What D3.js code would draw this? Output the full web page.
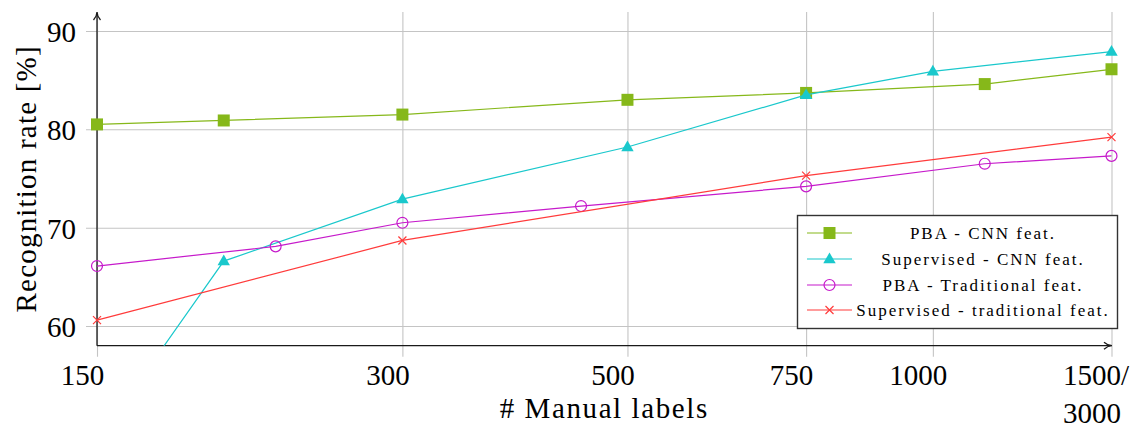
<!DOCTYPE html>
<html>
<head>
<meta charset="utf-8">
<script src="https://cdn.jsdelivr.net/npm/d3@7"></script>
<style>
  html, body { margin: 0; padding: 0; background: #fff; }
  svg { display: block; }
  text { font-family: "Liberation Serif", "DejaVu Serif", serif; fill: #000; }
</style>
</head>
<body>
<svg id="chart" width="1133" height="428"></svg>
<script>
// Recognition rate against the number of manual labels
const xTicks = [150, 300, 500, 750, 1000, 1500];
const xTickLabels = ["150", "300", "500", "750", "1000", "1500/|3000"];
const yTicks = [60, 70, 80, 90];

const seriesNames = [
  "PBA - CNN feat.",
  "Supervised - CNN feat.",
  "PBA - Traditional feat.",
  "Supervised - traditional feat."
];
const seriesColors = ["#86b81a", "#1ac8cc", "#c61acb", "#ff3b3b"];
const seriesMarkers = ["square", "triangle", "circle", "cross"];

const pbaCnnX = [150, 200, 300, 500, 750, 1125, 1500];
const pbaCnnY = [80.5, 80.9, 81.5, 83.0, 83.7, 84.6, 86.1];

const supCnnX = [150, 200, 300, 500, 750, 1000, 1500];
const supCnnY = [48.3, 66.6, 72.9, 78.2, 83.5, 85.9, 87.9];

const pbaTradX = [150, 225, 300, 450, 750, 1125, 1500];
const pbaTradY = [66.1, 68.1, 70.5, 72.2, 74.2, 76.5, 77.3];

const supTradX = [150, 300, 750, 1500];
const supTradY = [60.6, 68.7, 75.3, 79.2];

const seriesX = [pbaCnnX, supCnnX, pbaTradX, supTradX];
const seriesY = [pbaCnnY, supCnnY, pbaTradY, supTradY];

const svg = d3.select("#chart");

const x = d3.scaleLog().domain([150, 1500]).range([97, 1111.5]);
const y = d3.scaleLinear().domain([58, 92]).range([345.7, 11.3]);

const gridColor = "#c4c4c4";
const tickOut = 11;
const labelSize = 29;

// horizontal grid lines, running a little past the y axis
const yAxis = d3.axisLeft(y)
  .tickValues(yTicks)
  .tickSize(-(x.range()[1] - x.range()[0] + tickOut))
  .tickPadding(10)
  .tickFormat(d3.format("d"));
const gy = svg.append("g")
  .attr("transform", `translate(${x.range()[0] - tickOut},0)`)
  .call(yAxis);
gy.select(".domain").remove();
gy.selectAll(".tick line").attr("stroke", gridColor).attr("stroke-width", 1.1);
gy.selectAll(".tick text")
  .attr("font-size", labelSize)
  .attr("font-family", "Liberation Serif")
  .attr("dy", "0.36em");

// vertical grid lines with tick labels underneath
const xBottom = y.range()[0] + tickOut;
const xAxis = d3.axisBottom(x)
  .tickValues(xTicks)
  .tickSize(-(xBottom - 12))
  .tickFormat((d, i) => xTickLabels[i]);
const gx = svg.append("g")
  .attr("transform", `translate(0,${xBottom})`)
  .call(xAxis);
gx.select(".domain").remove();
gx.selectAll(".tick line").attr("stroke", gridColor).attr("stroke-width", 1.1);
gx.selectAll(".tick text")
  .attr("font-size", labelSize)
  .attr("font-family", "Liberation Serif")
  .attr("y", 385 - xBottom)
  .attr("dy", 0)
  .each(function (d, i) {
    const t = d3.select(this);
    const parts = xTickLabels[i].split("|");
    t.text(null);
    if (parts.length === 1) {
      t.append("tspan").attr("x", -15).text(parts[0]);
    } else {
      t.attr("text-anchor", "start");
      t.append("tspan").attr("x", -49).text(parts[0]);
      t.append("tspan").attr("x", -49).attr("dy", 38).text(parts[1]);
    }
  });

// axis lines with arrow heads (drawn beneath the data marks)
const axisColor = "#1a1a1a";
const x0 = x.range()[0], yb = y.range()[0];
svg.append("line")
  .attr("x1", x0).attr("y1", yb).attr("x2", x0).attr("y2", 14)
  .attr("stroke", axisColor).attr("stroke-width", 1.3);
svg.append("path")
  .attr("d", `M${x0 - 3.5},${20} Q${x0},${16} ${x0},${12} Q${x0},${16} ${x0 + 3.5},${20}`)
  .attr("fill", "none").attr("stroke", axisColor).attr("stroke-width", 1.3);
const xr = x.range()[1] + 0.5;
svg.append("line")
  .attr("x1", x0).attr("y1", yb).attr("x2", xr - 2).attr("y2", yb)
  .attr("stroke", axisColor).attr("stroke-width", 1.3);
svg.append("path")
  .attr("d", `M${xr - 8},${yb - 3.5} Q${xr - 4},${yb} ${xr},${yb} Q${xr - 4},${yb} ${xr - 8},${yb + 3.5}`)
  .attr("fill", "none").attr("stroke", axisColor).attr("stroke-width", 1.3);

// data lines, clipped to the plotting area (markers on the left edge stay whole)
svg.append("clipPath").attr("id", "plot-clip")
  .append("rect")
  .attr("x", x.range()[0] - 12).attr("y", 0)
  .attr("width", x.range()[1] - x.range()[0] + 24)
  .attr("height", y.range()[0]);

const line = d3.line().x(d => x(d[0])).y(d => y(d[1]));

const symbolPath = {
  square: d3.symbol().type(d3.symbolSquare).size(144)(),
  triangle: "M0,-6.5L6.2,4.2L-6.2,4.2Z",
  circle: d3.symbol().type(d3.symbolCircle).size(Math.PI * 30)(),
  cross: "M-4,-4L4,4M-4,4L4,-4"
};

function drawMarker(g, kind, color) {
  const p = g.append("path").attr("d", symbolPath[kind]);
  if (kind === "square" || kind === "triangle") {
    p.attr("fill", color).attr("stroke", "none");
  } else {
    p.attr("fill", "none").attr("stroke", color).attr("stroke-width", 1.2);
  }
}

const plot = svg.append("g").attr("clip-path", "url(#plot-clip)");
seriesNames.forEach((name, s) => {
  const pts = seriesX[s].map((v, i) => [v, seriesY[s][i]]);
  plot.append("path")
    .datum(pts)
    .attr("fill", "none")
    .attr("stroke", seriesColors[s])
    .attr("stroke-width", 1.2)
    .attr("d", line);
  pts.forEach(p => {
    const g = plot.append("g").attr("transform", `translate(${x(p[0])},${y(p[1])})`);
    drawMarker(g, seriesMarkers[s], seriesColors[s]);
  });
});

// axis titles
svg.append("text")
  .attr("x", (x.range()[0] + x.range()[1]) / 2)
  .attr("y", 418)
  .attr("text-anchor", "middle")
  .attr("font-size", labelSize)
  .attr("letter-spacing", 1.6)
  .text("# Manual labels");
svg.append("text")
  .attr("transform", `translate(36,${(yb + 12) / 2}) rotate(-90)`)
  .attr("text-anchor", "middle")
  .attr("font-size", labelSize)
  .attr("letter-spacing", 1.2)
  .text("Recognition rate [%]");

// legend
const lg = svg.append("g");
lg.append("rect")
  .attr("x", 797.5).attr("y", 215.5)
  .attr("width", 320).attr("height", 113)
  .attr("fill", "#fff")
  .attr("stroke", "#333").attr("stroke-width", 1.4);
const rowY = [233, 259, 285, 310];
seriesNames.forEach((name, s) => {
  const g = lg.append("g").attr("transform", `translate(0,${rowY[s]})`);
  g.append("line")
    .attr("x1", 807).attr("x2", 852).attr("y1", 0).attr("y2", 0)
    .attr("stroke", seriesColors[s]).attr("stroke-width", 1.2);
  const m = g.append("g").attr("transform", "translate(829.5,0)");
  drawMarker(m, seriesMarkers[s], seriesColors[s]);
  g.append("text")
    .attr("x", 983)
    .attr("y", 0)
    .attr("dy", "0.33em")
    .attr("text-anchor", "middle")
    .attr("font-size", 17)
    .attr("letter-spacing", 2)
    .text(name);
});
</script>
</body>
</html>
